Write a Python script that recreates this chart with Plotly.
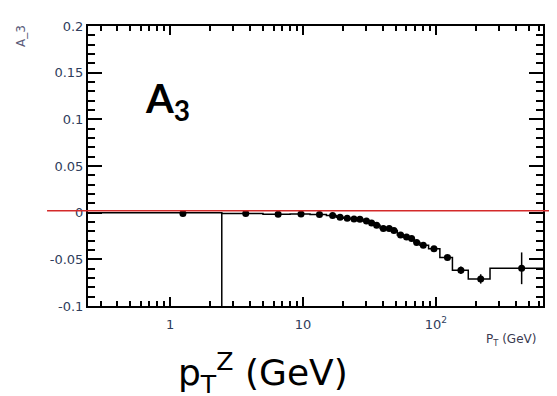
import plotly.graph_objects as go

# Data
pt_points = [1.25, 3.71, 6.5, 9.66, 13.3, 16.7, 19.0, 21.5, 24.2, 26.8, 30.0, 32.8, 35.8,
             40.2, 44.5, 48.3, 54.2, 60.1, 65.6, 71.6, 80.3, 96.6, 122, 154, 217, 441]
a3_values = [-0.001, -0.0008, -0.0018, -0.0015, -0.002, -0.003, -0.005, -0.006, -0.0068,
             -0.007, -0.009, -0.011, -0.0136, -0.017, -0.017, -0.019, -0.024, -0.026,
             -0.0277, -0.032, -0.035, -0.0387, -0.048, -0.0617, -0.071, -0.0596]
a3_errors = [0.0005, 0.0005, 0.0006, 0.0006, 0.0007, 0.0008, 0.0008, 0.0009, 0.0009,
             0.001, 0.001, 0.001, 0.0012, 0.0012, 0.0013, 0.0014, 0.0015, 0.0016,
             0.0017, 0.0018, 0.002, 0.0022, 0.003, 0.004, 0.005, 0.017]
bin_edges = [0.1, 2.45, 5.0, 8.0, 11.3, 15.0, 17.8, 20.2, 22.8, 25.5, 28.3, 31.4, 34.2,
             38.0, 42.3, 46.4, 51.2, 57.0, 62.8, 68.5, 75.8, 88.0, 107, 133, 175, 255, 700]
bin_values = [0.0, -0.0008, -0.0018, -0.0015, -0.002, -0.003, -0.005, -0.006, -0.0068,
              -0.007, -0.009, -0.011, -0.0136, -0.017, -0.017, -0.019, -0.024, -0.026,
              -0.0277, -0.032, -0.035, -0.0387, -0.048, -0.0617, -0.071, -0.0596]
edge_line_x = [2.45, 2.45]
edge_line_y = [0.0, -0.1]
ref_level = 0.002

x_tickvals = [1, 10, 100]
x_ticktext = ["1", "10", "10<sup>2</sup>"]
y_tickvals = [-0.1, -0.05, 0, 0.05, 0.1, 0.15, 0.2]
y_ticktext = ["-0.1", "-0.05", "0", "0.05", "0.1", "0.15", "0.2"]

fig = go.Figure()

# step histogram
fig.add_trace(go.Scatter(
    x=bin_edges, y=bin_values + [bin_values[-1]],
    mode="lines", line=dict(color="black", width=1.5, shape="hv"),
    hoverinfo="skip", showlegend=False))

fig.add_trace(go.Scatter(
    x=edge_line_x, y=edge_line_y, mode="lines",
    line=dict(color="black", width=1.5), showlegend=False, hoverinfo="skip"))

fig.add_trace(go.Scatter(
    x=pt_points, y=a3_values, mode="markers",
    marker=dict(color="black", size=7, symbol="circle"),
    error_y=dict(type="data", array=a3_errors, color="black", thickness=1.5, width=0),
    showlegend=False))

tick_font = dict(family="DejaVu Sans, sans-serif", size=13, color="#2f3d5c")

# page body has an 8px margin: figure is sized and offset to compensate
fig.update_layout(
    width=549, height=388,
    margin=dict(l=80, r=14, t=11, b=90),
    paper_bgcolor="white", plot_bgcolor="white",
    xaxis=dict(
        type="log", range=[-0.617, 2.805],
        tickvals=x_tickvals, ticktext=x_ticktext,
        ticks="inside", ticklen=9, tickwidth=1.5, tickcolor="black",
        showline=True, linecolor="black", linewidth=2, mirror="allticks",
        showgrid=False, zeroline=False, tickfont=tick_font, ticklabelstandoff=5,
        minor=dict(ticks="inside", ticklen=5, tickwidth=1.5, tickcolor="black",
                   dtick="D1", showgrid=False),
        title=None,
    ),
    yaxis=dict(
        range=[-0.1, 0.2],
        tickvals=y_tickvals, ticktext=y_ticktext,
        ticks="inside", ticklen=14, tickwidth=1.5, tickcolor="black",
        showline=True, linecolor="black", linewidth=2, mirror="allticks",
        showgrid=False, zeroline=False, tickfont=tick_font,
        minor=dict(ticks="inside", ticklen=7, tickwidth=1.5, tickcolor="black",
                   dtick=0.01, showgrid=False),
        title=None,
    ),
)

# reference red line extending beyond the frame
fig.add_shape(type="line", xref="paper", yref="y", x0=-0.09, x1=1.04,
              y0=ref_level, y1=ref_level, line=dict(color="#d42a2a", width=1.5))

# small axis titles
fig.add_annotation(text="A_3", xref="paper", yref="paper", x=-0.147, y=0.965,
                   xanchor="center", yanchor="middle",
                   textangle=-90, showarrow=False,
                   font=dict(family="DejaVu Sans, sans-serif", size=12, color="#5a5a78"))
fig.add_annotation(text="P<sub>T</sub> (GeV)", xref="paper", yref="paper", x=0.989, y=-0.122,
                   xanchor="right", yanchor="middle", showarrow=False,
                   font=dict(family="DejaVu Sans, sans-serif", size=12, color="#3a3a50"))

# big labels
fig.add_annotation(text="<b>A<sub>3</sub></b>", xref="paper", yref="paper", x=0.121, y=0.735,
                   xanchor="left", yanchor="middle", showarrow=False,
                   font=dict(family="Lato, Noto Sans, sans-serif", size=40, color="black"))
fig.add_annotation(text="p<sub>T</sub><sup>Z</sup> (GeV)", xref="paper", yref="paper",
                   x=0.385, y=-0.238, xanchor="center", yanchor="middle", showarrow=False,
                   font=dict(family="DejaVu Sans, sans-serif", size=36, color="black"))

fig.write_html("out.html")
